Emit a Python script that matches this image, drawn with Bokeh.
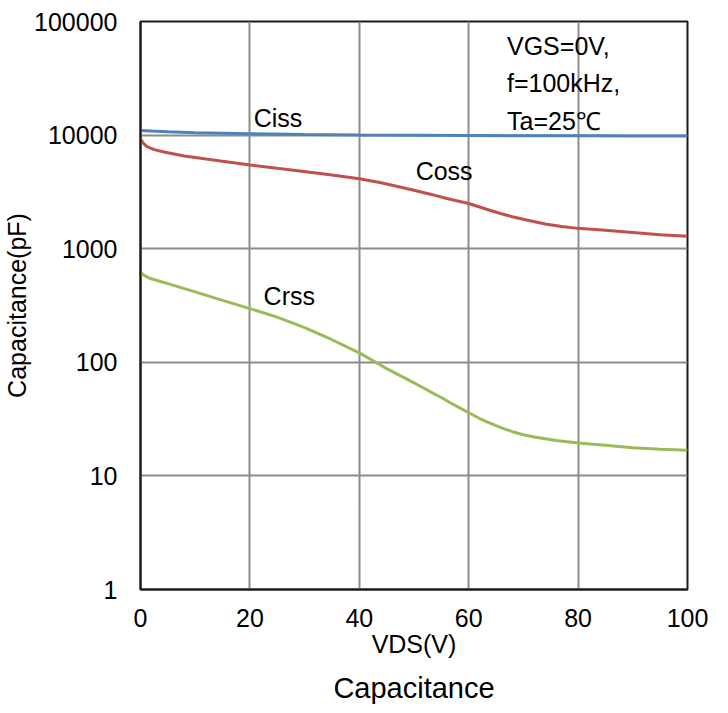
from bokeh.plotting import figure
from bokeh.models import Label, FixedTicker, NumeralTickFormatter, Title, Range1d
from bokeh.embed import file_html
from bokeh.resources import INLINE

# Data
ciss_v = [0, 2, 5, 10, 20, 30, 40, 50, 60, 70, 80, 90, 100]
ciss_c = [11000, 10850, 10700, 10500, 10300, 10100, 10000, 9950, 9900, 9870, 9850, 9830, 9800]

coss_v = [0, 0.5, 1.2, 2.5, 4.3, 8, 12, 20, 28, 35, 40, 44, 47, 50, 53, 56, 58, 60, 62, 64, 66, 68, 71, 74, 77, 80, 85, 90, 95, 100]
coss_c = [9200, 8500, 7900, 7450, 7100, 6550, 6150, 5450, 4900, 4450, 4130, 3800, 3530, 3270, 3020, 2770, 2630, 2500, 2330, 2170, 2030, 1910, 1770, 1650, 1570, 1510, 1450, 1390, 1330, 1290]

crss_v = [0, 0.5, 1.8, 5, 10, 15, 20, 25, 30, 35, 40, 43, 45, 48, 50, 53, 55, 57, 60, 62, 64, 66, 68, 70, 72, 76, 80, 85, 90, 95, 100]
crss_c = [617, 590, 546, 493, 417, 351, 297, 250, 202, 158, 121, 100, 88, 74, 66, 55, 49, 43, 36, 32, 29, 26.5, 24.5, 23, 22, 20.5, 19.5, 18.6, 17.7, 17.2, 16.8]

y_ticks = [1, 10, 100, 1000, 10000, 100000]
x_ticks = [0, 20, 40, 60, 80, 100]

FONT = "Liberation Sans"

p = figure(width=712, height=713, y_axis_type="log", output_backend="svg",
           toolbar_location=None, x_range=Range1d(0, 100), y_range=Range1d(1, 100000),
           min_border_left=140, min_border_right=25, min_border_top=21, min_border_bottom=124)
p.background_fill_color = "white"
p.border_fill_color = "white"
p.outline_line_color = "#1a1a1a"
p.outline_line_width = 2

p.line(ciss_v, ciss_c, line_color="#4F81BD", line_width=3)
p.line(coss_v, coss_c, line_color="#C0504D", line_width=3)
p.line(crss_v, crss_c, line_color="#9BBB59", line_width=3)

p.xaxis.ticker = FixedTicker(ticks=x_ticks)
p.yaxis.ticker = FixedTicker(ticks=y_ticks, minor_ticks=[])
p.yaxis.formatter = NumeralTickFormatter(format="0")
for ax in (p.xaxis[0], p.yaxis[0]):
    ax.major_tick_in = 0
    ax.major_tick_out = 0
    ax.minor_tick_in = 0
    ax.minor_tick_out = 0
    ax.axis_line_color = "#1a1a1a"
    ax.axis_line_width = 2
    ax.major_label_text_font = FONT
    ax.major_label_text_font_size = "25px"
    ax.major_label_text_color = "black"
    ax.axis_label_text_font = FONT
    ax.axis_label_text_font_style = "normal"
    ax.axis_label_text_color = "black"
    ax.axis_label_text_font_size = "25px"

p.xaxis.axis_label = "VDS(V)"
p.xaxis.major_label_standoff = 19
p.xaxis.axis_label_standoff = 0
p.yaxis.axis_label = "Capacitance(pF)"
p.yaxis.major_label_standoff = 23
p.yaxis.axis_label_standoff = 0

p.xgrid.grid_line_color = "#8c8c8c"
p.xgrid.grid_line_width = 2
p.ygrid.grid_line_color = "#8c8c8c"
p.ygrid.grid_line_width = 2

title = Title(text="Capacitance", align="center", text_font=FONT, text_font_size="29px",
              text_font_style="normal", text_color="black", standoff=18)
p.add_layout(title, "below")

def lab(x, y, t):
    p.add_layout(Label(x=x, y=y, text=t, text_font=FONT, text_font_size="25px",
                       text_color="black", text_baseline="alphabetic", text_align="left"))

lab(20.7, 14100, "Ciss")
lab(50.3, 4820, "Coss")
lab(22.5, 382, "Crss")
lab(67, 60800, "VGS=0V,")
lab(67, 28700, "f=100kHz,")
lab(67, 13280, "Ta=25℃")

open("out.html", "w").write(file_html(p, INLINE))
